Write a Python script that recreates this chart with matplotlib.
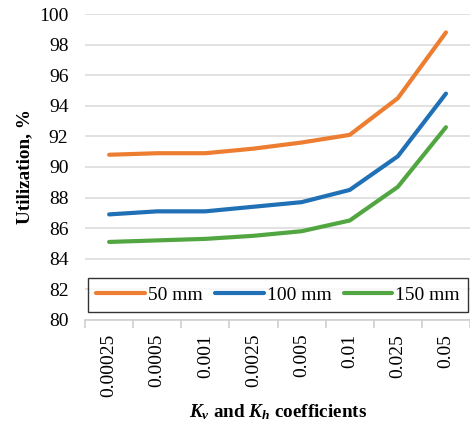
import numpy as np
import matplotlib.pyplot as plt
from matplotlib.ticker import MultipleLocator, FixedLocator

plt.rcParams['font.family'] = ['Liberation Serif', 'DejaVu Serif']
plt.rcParams['mathtext.fontset'] = 'custom'
plt.rcParams['mathtext.it'] = 'Liberation Serif:italic:bold'
plt.rcParams['mathtext.rm'] = 'Liberation Serif:bold'

# datos
coef = ['0.00025', '0.0005', '0.001', '0.0025', '0.005', '0.01', '0.025', '0.05']
u50 = [90.8, 90.9, 90.9, 91.2, 91.6, 92.1, 94.5, 98.8]
u100 = [86.9, 87.1, 87.1, 87.4, 87.7, 88.5, 90.7, 94.8]
u150 = [85.1, 85.2, 85.3, 85.5, 85.8, 86.5, 88.7, 92.6]
series = ['50 mm', '100 mm', '150 mm']

colores = ['#ED7D31', '#2070B6', '#52A641']

fig = plt.figure(figsize=(4.7, 4.26), dpi=100)
ax = fig.add_axes([0.181, 0.249, 0.819, 0.718])

x = np.arange(len(coef))
for y, nom, c in zip([u50, u100, u150], series, colores):
    ax.plot(x, y, color=c, linewidth=3, solid_capstyle='round', label=nom)

ax.set_xlim(-0.5, len(coef) - 0.5)
ax.set_ylim(80, 100)
ax.yaxis.set_major_locator(MultipleLocator(2))
ax.grid(axis='y', color='#dcdcdc', linewidth=1.2)
ax.set_axisbelow(True)

ax.set_xticks(x)
ax.set_xticklabels(coef, rotation=90, fontsize=14)
ax.xaxis.set_minor_locator(FixedLocator(np.arange(-0.5, len(coef), 1)))
ax.tick_params(axis='x', which='major', length=0, pad=10)
ax.tick_params(axis='x', which='minor', length=6, color='#cfcfcf', width=1.2)
ax.tick_params(axis='y', length=0, labelsize=14, pad=12)

for s in ['top', 'right', 'left']:
    ax.spines[s].set_visible(False)
ax.spines['bottom'].set_color('#cfcfcf')
ax.spines['bottom'].set_linewidth(1.2)

ax.set_ylabel('Utilization, %', fontsize=13.8, fontweight='bold', labelpad=4)
ax.set_xlabel('$K_v$ and $K_h$ coefficients', fontsize=13.8,
              fontweight='bold', labelpad=4)

leg = ax.legend(loc='lower left', bbox_to_anchor=(0.008, 0.026, 0.987, 0.114),
                mode='expand', ncol=3, fontsize=14, frameon=True,
                fancybox=False, handlelength=2.5, handletextpad=0.15,
                columnspacing=0.55, borderaxespad=0, borderpad=0.42)
leg.get_frame().set_edgecolor('black')
leg.get_frame().set_linewidth(1)

fig.savefig('out.png', dpi=100)
